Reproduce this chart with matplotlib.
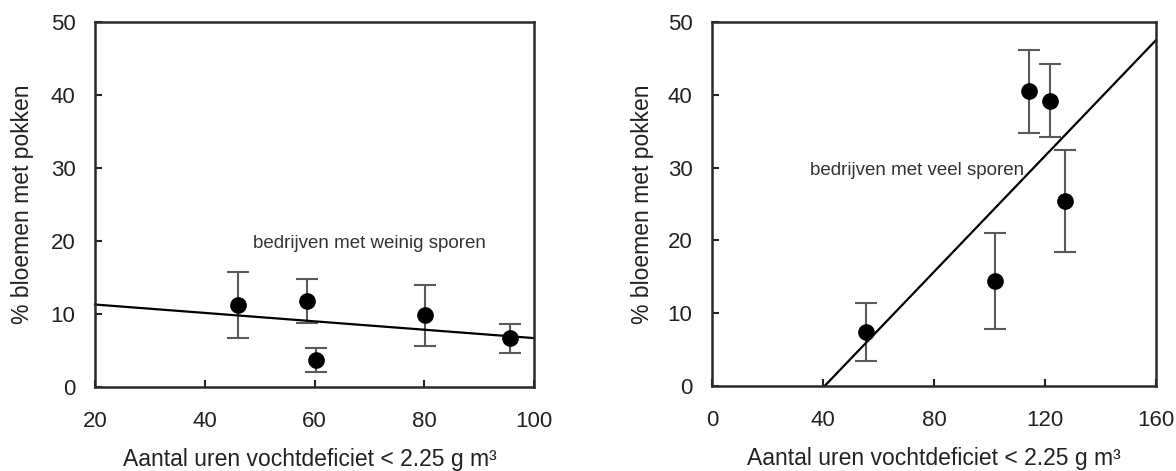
import numpy as np
import matplotlib
matplotlib.use("Agg")
import matplotlib.pyplot as plt

plt.rcParams['font.family'] = ['Liberation Sans', 'DejaVu Sans']

# left panel: bedrijven met weinig sporen
x_weinig = [46.0, 58.6, 60.3, 80.2, 95.6]
y_weinig = [11.2, 11.8, 3.7, 9.8, 6.7]
err_weinig = [4.5, 3.0, 1.7, 4.2, 2.0]
fit_x_weinig = [20, 100]
fit_y_weinig = [11.3, 6.7]

# right panel: bedrijven met veel sporen
x_veel = [55.5, 102.0, 114.4, 121.7, 127.3]
y_veel = [7.4, 14.4, 40.5, 39.2, 25.4]
err_veel = [4.0, 6.6, 5.7, 5.0, 7.0]
fit_x_veel = [40.6, 160]
fit_y_veel = [0, 47.5]

xlabel = 'Aantal uren vochtdeficiet < 2.25 g m³'
ylabel = '% bloemen met pokken'

fig = plt.figure(figsize=(11.76, 4.71), dpi=100)
ax1 = fig.add_axes([0.0808, 0.1783, 0.3733, 0.775])
ax2 = fig.add_axes([0.6054, 0.1805, 0.3776, 0.773])

tc = '#222222'

def style(ax, xlim, xticks, lx, ly):
    ax.set_xlim(*xlim)
    ax.set_ylim(0, 50)
    ax.set_xticks(xticks)
    ax.set_yticks([0, 10, 20, 30, 40, 50])
    ax.tick_params(direction='in', length=5, width=1.5, labelsize=16,
                   colors=tc)
    ax.tick_params(axis='x', pad=17)
    ax.tick_params(axis='y', pad=14)
    for s in ax.spines.values():
        s.set_linewidth(1.8)
        s.set_color('#2a2a2a')
    ax.set_xlabel(xlabel, fontsize=16.5, color=tc)
    ax.set_ylabel(ylabel, fontsize=16.5, color=tc)
    ax.xaxis.set_label_coords(lx, -0.168)
    ax.yaxis.set_label_coords(ly, 0.5)

style(ax1, (20, 100), [20, 40, 60, 80, 100], 0.49, -0.138)
style(ax2, (0, 160), [0, 40, 80, 120, 160], 0.50, -0.131)

ax1.errorbar(x_weinig, y_weinig, yerr=err_weinig, fmt='o', color='black',
             ms=11, ecolor='#5a5a5a', elinewidth=1.5, capsize=8, capthick=1.5)
ax1.plot(fit_x_weinig, fit_y_weinig, color='black', lw=1.6, clip_on=False)
ax1.text(48.7, 19.7, 'bedrijven met weinig sporen', fontsize=13.5,
         color='#333333', va='center')

ax2.errorbar(x_veel, y_veel, yerr=err_veel, fmt='o', color='black',
             ms=11, ecolor='#5a5a5a', elinewidth=1.5, capsize=8, capthick=1.5)
ax2.plot(fit_x_veel, fit_y_veel, color='black', lw=1.6, clip_on=False)
ax2.text(35.2, 29.6, 'bedrijven met veel sporen', fontsize=13.5,
         color='#333333', va='center')

fig.savefig('out.png', dpi=100)
